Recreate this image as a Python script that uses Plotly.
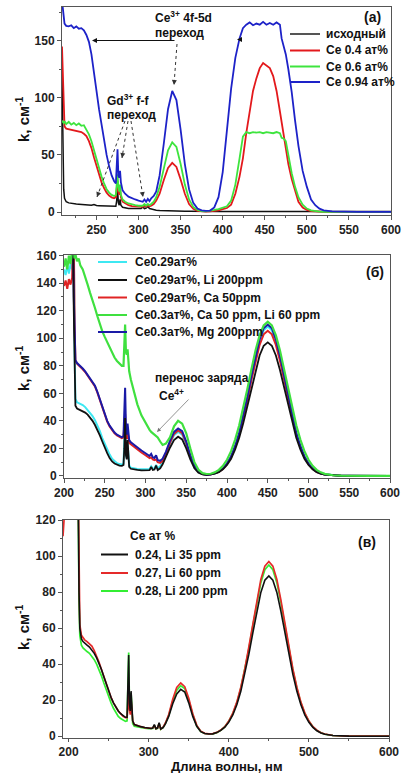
import plotly.graph_objects as go

# ---------------- Panel (a) data ----------------
wl_a = [209, 210, 211, 212, 214, 217, 220, 223, 226, 229,
        232, 235, 238, 241, 244, 247, 250, 253, 256, 259,
        262, 265, 268, 271, 273, 274, 275, 276, 277, 278,
        279, 281, 284, 288, 292, 296, 300, 303, 305, 307,
        309, 311, 313, 315, 318, 321, 325, 330, 335, 340,
        345, 350, 355, 360, 365, 370, 375, 380, 385, 390,
        395, 400, 405, 410, 415, 420, 424, 428, 432, 436,
        440, 444, 448, 452, 456, 460, 464, 468, 470, 472,
        475, 478, 482, 486, 490, 495, 500, 505, 510, 515,
        520, 530, 540, 560, 600]
k_a_initial = [120, 50, 20, 12, 9, 8, 7.5, 7.2, 7, 6.8,
               6.6, 6.4, 6.2, 6, 5.9, 6.6, 5.7, 5.6, 5.5, 5.3,
               5.1, 5, 4.8, 4.6, 5, 10, 20, 8, 6, 11,
               6, 4.2, 3.6, 3.2, 3, 2.8, 2.7, 3, 4.5, 3,
               3.5, 4.8, 3, 2.5, 2, 1.6, 1.3, 1.1, 1, 0.9,
               0.8, 0.7, 0.6, 0.6, 0.5, 0.5, 0.5, 0.5, 0.5, 0.5,
               0.5, 0.5, 0.5, 0.5, 0.5, 0.5, 0.5, 0.5, 0.5, 0.5,
               0.5, 0.5, 0.5, 0.5, 0.5, 0.5, 0.5, 0.5, 0.5, 0.5,
               0.5, 0.5, 0.5, 0.5, 0.5, 0.5, 0.5, 0.5, 0.5, 0.5,
               0.4, 0.4, 0.4, 0.4, 0.4]
k_a_ce04 = [145, 118, 88, 75, 73, 72.5, 72, 71.5, 71, 70.5,
            70, 68.5, 66.5, 62, 56, 48, 40, 32, 26, 21,
            17, 14.5, 12.8, 12, 13, 20, 27, 18, 15, 20,
            13, 9, 7.5, 6, 5.2, 4.8, 4.4, 4.3, 4.5, 5.5,
            4.5, 6, 5, 5.5, 7, 10, 16, 28, 38.5, 43,
            39.5, 28.5, 16, 7, 2.8, 1.1, 0.5, 0.4, 0.6, 0.8,
            1.5, 2.5, 3.5, 6.5, 16, 31, 47, 69, 88, 106,
            117, 126, 130.5, 128.5, 126, 119, 106, 88, 78, 69,
            54, 42, 29, 18, 9, 4, 1.8, 0.8, 0.4, 0.2,
            0.1, 0.1, 0.1, 0.1, 0.1]
k_a_ce06 = [80, 79, 78, 79.5, 77, 79, 76.5, 78, 76, 77.5,
            75.5, 76, 72.5, 68, 62, 54, 46, 38, 31, 25,
            20, 17, 15, 14, 15, 24, 33, 22, 18, 24,
            15, 11, 9, 7.5, 6.5, 6, 5.5, 5.5, 5.5, 7,
            5.5, 7, 6, 7, 9, 13, 22, 38, 54, 61,
            57, 42, 24, 11, 4.5, 1.8, 0.8, 0.6, 1, 1.8,
            2.5, 3.5, 5, 10, 24, 47, 66, 70, 69, 70,
            69.5, 70, 69, 70, 69.5, 69, 70, 69, 65, 64.5,
            62, 50, 34, 22, 13, 6.5, 3, 1.5, 0.7, 0.3,
            0.2, 0.1, 0.1, 0.1, 0.1]
k_a_ce094 = [185, 178, 170, 165, 163, 162.5, 163.5, 161, 162.5, 160.5,
             161, 159, 155, 149, 138, 124, 106, 90, 76, 62,
             50, 40, 32, 27, 25, 40, 55, 32, 30, 36,
             26, 19, 16, 13.5, 12, 11, 10, 9.5, 9, 11,
             9, 11.5, 9.5, 12, 14, 18, 32, 60, 90, 106,
             98, 72, 42, 20, 8, 3, 1.5, 1, 1.3, 4,
             13, 35, 72, 108, 135, 152, 161, 164, 166, 163.5,
             165, 164, 166.5, 164, 165.5, 164, 166, 164, 152, 147,
             138, 125, 105, 80, 58, 36, 22, 11, 6, 3,
             1.5, 0.5, 0.2, 0.1, 0.1]

# ---------------- Panel (b) data ----------------
wl_b = [200, 202, 204, 206, 208, 210, 211, 212, 213, 214,
        216, 218, 220, 223, 226, 229, 232, 235, 238, 241,
        244, 247, 250, 253, 256, 259, 262, 265, 268, 271,
        273, 274, 275, 276, 277, 278, 279, 280, 282, 285,
        290, 295, 300, 303, 305, 307, 309, 311, 313, 315,
        318, 321, 325, 330, 335, 340, 345, 350, 355, 360,
        365, 370, 375, 380, 385, 390, 395, 400, 405, 410,
        415, 420, 425, 430, 435, 440, 445, 450, 455, 460,
        465, 470, 475, 480, 485, 490, 495, 500, 505, 510,
        515, 520, 530, 540, 550, 575, 600]
k_b_ce029 = [150, 146, 153, 147, 154, 150, 170, 175, 90, 56,
             53.5, 53, 52.5, 51.5, 50, 48, 46, 43.5, 40.5, 37,
             32.5, 27.5, 23, 19, 15.5, 12.5, 10.5, 9.3, 8.6, 8.3,
             9, 20, 40, 16, 13, 24, 10, 7.5, 6, 5.5,
             5, 4.8, 4.7, 4.7, 5, 7, 5.2, 5.5, 8, 5.5,
             7, 10, 16, 23.5, 29.5, 32, 30, 23, 14, 6.5,
             2.8, 1.3, 0.9, 1.1, 1.8, 3.1, 5.3, 8.8, 14, 21.5,
             31, 43, 57, 72, 86, 97.9, 105.8, 108.5, 105.8, 97.9,
             86, 72, 57, 43, 31, 21.5, 14, 9, 5.6, 3.4,
             2, 1.2, 0.4, 0.15, 0.05, 0, 0]
k_b_li200 = [175, 175, 175, 175, 175, 175, 175, 120, 68, 51,
             49, 48.5, 48, 47, 46, 44.5, 42.5, 40, 37, 33.5,
             29.5, 25, 20.5, 16.5, 13, 10.5, 9, 8, 7.5, 7.3,
             8, 20, 42, 15, 12, 26, 9, 6.5, 5.2, 4.8,
             4.4, 4.1, 3.9, 3.9, 4.2, 6.5, 4.3, 4.6, 7.5, 4.3,
             5.5, 8.5, 14, 20.5, 26, 28.5, 26.5, 20, 12, 5.5,
             2.3, 1.1, 0.8, 1, 1.6, 2.8, 4.8, 7.9, 12.5, 19.2,
             27.7, 38.5, 50.8, 64.2, 76.9, 87.5, 94.6, 97, 94.6, 87.5,
             76.9, 64.2, 50.8, 38.5, 27.7, 19.2, 12.5, 7.9, 4.8, 2.8,
             1.6, 1, 0.4, 0.15, 0.05, 0, 0]
k_b_ca50 = [138, 142, 136, 143, 139, 144, 170, 175, 110, 84,
            81.5, 80.5, 79.5, 77.5, 75.5, 73, 70.5, 68, 65, 60.5,
            55, 49, 44, 39.5, 36, 33, 31, 29.5, 28.5, 27.5,
            28, 35, 45, 30, 27, 32, 25, 24, 23, 21.5,
            19, 17, 15, 14, 13, 13.5, 12, 11.5, 12, 10,
            9.5, 11, 16, 24, 30.5, 33, 31, 24, 14.5, 7,
            3, 1.4, 0.9, 1.1, 1.8, 3, 5.1, 8.6, 13.6, 20.9,
            30.1, 41.8, 55.3, 69.8, 83.7, 95.2, 102.9, 105.5, 102.9, 95.2,
            83.7, 69.8, 55.3, 41.8, 30.1, 20.9, 13.6, 8.6, 5.2, 3,
            1.7, 1, 0.4, 0.15, 0.05, 0, 0]
k_b_ca50li60 = [152, 158, 150, 160, 154, 162, 170, 165, 158, 161,
                156, 158, 153, 150, 145, 139, 133, 128, 122, 116,
                110, 105, 101, 97, 93, 89, 86, 83.5, 82, 80,
                80, 95, 110, 90, 88, 92, 84, 76, 70, 63,
                52, 44, 38.5, 35.5, 33.5, 32, 31, 30, 29.5, 28,
                25, 22.5, 23.5, 28, 36, 40, 38, 31, 20, 10,
                4.5, 2, 1.4, 1.6, 2.6, 4.4, 7.3, 11.7, 18, 26.4,
                36.8, 49.3, 63.2, 77.6, 91.2, 102.1, 109.4, 112, 109.4, 102.1,
                91.2, 77.6, 63.2, 49.3, 36.8, 26.4, 18, 11.7, 7.3, 4.4,
                2.6, 1.5, 0.5, 0.2, 0.05, 0, 0]
k_b_mg200 = [175, 175, 175, 175, 175, 175, 175, 130, 100, 84,
             82, 81, 80, 78, 76, 73.5, 71, 68.5, 65.5, 61,
             55.5, 49.5, 44.5, 40, 36.5, 33.5, 31.5, 30, 29, 28,
             29, 45, 64, 35, 30, 38, 28, 26, 24.5, 23,
             20.5, 18.5, 16.5, 15.5, 14.5, 16, 13.5, 13, 15, 11.5,
             11, 12.5, 17.5, 25.5, 32, 34.5, 32.5, 25, 15, 7.3,
             3.1, 1.4, 0.9, 1.1, 1.9, 3.2, 5.3, 9, 14.2, 21.8,
             31.4, 43.6, 57.6, 72.8, 87.2, 99.2, 107.3, 110, 107.3, 99.2,
             87.2, 72.8, 57.6, 43.6, 31.4, 21.8, 14.2, 9, 5.4, 3.2,
             1.8, 1, 0.4, 0.15, 0.05, 0, 0]

# ---------------- Panel (c) data ----------------
wl_c = [193, 195, 198, 202, 206, 210, 211, 212, 213, 214,
        216, 218, 220, 223, 226, 229, 232, 235, 238, 241,
        244, 247, 250, 253, 256, 259, 262, 265, 268, 271,
        273, 274, 275, 276, 277, 278, 279, 280, 282, 285,
        290, 295, 300, 303, 305, 307, 309, 311, 313, 315,
        318, 321, 325, 330, 335, 340, 345, 350, 355, 360,
        365, 370, 375, 380, 385, 390, 395, 400, 405, 410,
        415, 420, 425, 430, 435, 440, 445, 450, 455, 460,
        465, 470, 475, 480, 485, 490, 495, 500, 505, 510,
        515, 520, 530, 540, 550, 575, 600]
k_c_024 = [200, 200, 200, 200, 200, 200, 180, 120, 80, 60,
           54, 52.5, 51.5, 50.5, 49.5, 48, 46, 43.5, 40.5, 37,
           33, 29, 25, 21.5, 18.5, 16, 14, 12.5, 11.3, 10.5,
           10.5, 25, 45, 18, 14, 25, 12, 8.5, 6.5, 6,
           5.3, 4.8, 4.4, 4.3, 4.5, 6.5, 4.2, 4.5, 7.5, 4,
           4.8, 7, 11, 18, 23.5, 26, 24.5, 18.5, 11, 5.5,
           2.5, 1.5, 1.2, 1.3, 2, 3.2, 5, 7.8, 11.8, 17.4,
           24.9, 34.3, 45.4, 57.4, 69.4, 79.8, 86.6, 89, 86.6, 79.8,
           69.4, 57.4, 45.4, 34.3, 24.9, 17.4, 11.7, 7.7, 4.9, 3,
           1.8, 1.1, 0.4, 0.15, 0.05, 0, 0]
k_c_027 = [111, 125, 200, 200, 200, 200, 180, 125, 85, 62,
           56, 54.5, 53.5, 52.5, 51.5, 50, 47.5, 44.5, 41, 37,
           33, 29, 25, 21.5, 18.5, 16, 14, 12.5, 11, 10.3,
           10.3, 16, 28, 15, 12, 20, 11, 8.5, 6.5, 6,
           5.3, 4.8, 4.4, 4.3, 4.5, 6, 4.2, 4.5, 7, 4,
           5, 7.5, 12, 20.5, 27, 29.5, 27.5, 21, 12.5, 6,
           2.8, 1.6, 1.3, 1.4, 2.1, 3.4, 5.3, 8.4, 12.8, 18.9,
           27.2, 37.3, 49.5, 62.6, 75.7, 87, 94.4, 97, 94.4, 87,
           75.7, 62.6, 49.5, 37.3, 27.2, 18.9, 12.8, 8.4, 5.3, 3.3,
           1.9, 1.2, 0.4, 0.15, 0.05, 0, 0]
k_c_028 = [200, 200, 200, 200, 200, 200, 180, 115, 75, 56,
           50.5, 49, 48, 47, 46, 44.5, 42.5, 40, 37, 33.5,
           29.5, 25.5, 22, 18.5, 15.5, 13, 11, 9.8, 8.8, 8.2,
           8.5, 25, 46.5, 17, 13, 24, 10, 7, 5.5, 5.2,
           4.8, 4.5, 4.2, 4.1, 4.3, 6, 4, 4.3, 7, 3.8,
           4.8, 7.2, 11.5, 19.5, 25.5, 28, 26.5, 20, 12, 5.6,
           2.6, 1.5, 1.2, 1.3, 2, 3.3, 5.2, 8.3, 12.5, 18.5,
           26.6, 36.6, 48.5, 61.3, 74.1, 85.2, 92.4, 95, 92.4, 85.2,
           74.1, 61.3, 48.5, 36.6, 26.6, 18.5, 12.5, 8.3, 5.2, 3.2,
           1.9, 1.1, 0.4, 0.15, 0.05, 0, 0]

for name, xs, ys in [("a0", wl_a, k_a_initial), ("a1", wl_a, k_a_ce04), ("a2", wl_a, k_a_ce06),
                     ("a3", wl_a, k_a_ce094), ("b0", wl_b, k_b_ce029), ("b1", wl_b, k_b_li200),
                     ("b2", wl_b, k_b_ca50), ("b3", wl_b, k_b_ca50li60), ("b4", wl_b, k_b_mg200),
                     ("c0", wl_c, k_c_024), ("c1", wl_c, k_c_027), ("c2", wl_c, k_c_028)]:
    if len(xs) != len(ys):
        raise ValueError(f"{name}: {len(xs)} vs {len(ys)}")

W, H = 402, 773
def px(x):
    return x / W
def py(y):
    return 1 - y / H

FONT = "Liberation Sans"
BLK = "#111111"

fig = go.Figure()

def add(xs, ys, color, ax, width=1.7):
    fig.add_trace(go.Scatter(x=xs, y=ys, mode="lines", line=dict(color=color, width=width),
                             xaxis="x" + ax, yaxis="y" + ax, showlegend=False, hoverinfo="skip"))

# panel (a)
add(wl_a, k_a_initial, BLK, "", 1.5)
add(wl_a, k_a_ce04, "#e3191c", "", 1.8)
add(wl_a, k_a_ce06, "#3ee43e", "", 1.8)
add(wl_a, k_a_ce094, "#1d22c8", "", 1.8)
# panel (b)
add(wl_b, k_b_ce029, "#3ee8f2", "2", 2)
add(wl_b, k_b_ca50, "#e02424", "2", 2)
add(wl_b, k_b_mg200, "#1a1aa6", "2", 2)
add(wl_b, k_b_li200, BLK, "2", 1.8)
add(wl_b, k_b_ca50li60, "#3fe03f", "2", 2.2)
# panel (c)
add(wl_c, k_c_028, "#33ee33", "3", 1.7)
add(wl_c, k_c_027, "#e52a2a", "3", 1.7)
add(wl_c, k_c_024, BLK, "3", 1.6)

def xax(domain, rng, tick0, dtick, mdtick, ticklen=4):
    return dict(domain=domain, range=rng, tickmode="linear", tick0=tick0, dtick=dtick,
                showline=True, linecolor="#555", linewidth=1, mirror=True,
                ticks="outside", ticklen=ticklen, tickwidth=1, tickcolor="#555",
                minor=dict(ticks="outside", ticklen=2, tickcolor="#555", dtick=mdtick, tick0=tick0),
                showgrid=False, zeroline=False, automargin=False,
                tickfont=dict(family=FONT, size=12, color="#222", weight="bold"))

yax = xax

layout = dict(
    width=W, height=H, margin=dict(l=0, r=0, t=0, b=0),
    paper_bgcolor="white", plot_bgcolor="white", showlegend=False,
    xaxis=dict(xax([px(62), px(391)], [209, 600], 250, 50, 25), anchor="y"),
    yaxis=dict(yax([py(215), py(7)], [-2.6, 179.5], 0, 50, 25), anchor="x"),
    xaxis2=dict(xax([px(64), px(390)], [200, 600], 200, 50, 25), anchor="y2"),
    yaxis2=dict(yax([py(478), py(255)], [-1.5, 160.5], 0, 20, 10), anchor="x2"),
    xaxis3=dict(xax([px(63), px(389)], [193, 600], 200, 100, 50, 3), anchor="y3"),
    yaxis3=dict(yax([py(738), py(520)], [-1, 120], 0, 20, 10), anchor="x3"),
)
fig.update_layout(**layout)

ann = []
shapes = []

def text(x, y, s, size=12, anchor="left"):
    ann.append(dict(x=px(x), y=py(y), xref="paper", yref="paper", text=s, showarrow=False,
                    xanchor=anchor, yanchor="middle",
                    font=dict(family=FONT, size=size, color="#111", weight="bold")))

def legend_item(x0, x1, y, color, label, width=2, tx=None):
    shapes.append(dict(type="line", xref="paper", yref="paper", x0=px(x0), x1=px(x1),
                       y0=py(y), y1=py(y), line=dict(color=color, width=width)))
    text(tx if tx is not None else x1 + 4, y, label, 12)

def dotted_arrow(x0, y0, x1, y1, color="#333"):
    shapes.append(dict(type="line", xref="paper", yref="paper", x0=px(x0), y0=py(y0),
                       x1=px(x1), y1=py(y1), line=dict(color=color, width=1, dash="dot")))
    dx, dy = x0 - x1, y0 - y1
    L = (dx * dx + dy * dy) ** 0.5
    ann.append(dict(x=px(x1), y=py(y1), xref="paper", yref="paper", text="", showarrow=True,
                    ax=dx / L * 6, ay=dy / L * 6, arrowhead=2, arrowsize=1, arrowwidth=1,
                    arrowcolor=color))

def solid_arrow(x0, y0, x1, y1, color="#111", width=1):
    ann.append(dict(x=px(x1), y=py(y1), xref="paper", yref="paper", text="", showarrow=True,
                    ax=x0 - x1, ay=y0 - y1, arrowhead=2, arrowsize=1, arrowwidth=width,
                    arrowcolor=color))

# ---- panel (a) text ----
text(372, 17, "(a)", 14, "center")
legend_item(290, 320, 34, "#555", "исходный")
legend_item(290, 320, 50.5, "#e3191c", "Ce 0.4 ат%")
legend_item(290, 320, 66.5, "#3ee43e", "Ce 0.6 ат%")
legend_item(290, 320, 82, "#1d22c8", "Ce 0.94 ат%")
text(153, 17, "Ce<sup>3+</sup> 4f-5d", 12)
text(153, 33, "переход", 12)
dotted_arrow(177, 44, 174, 85)
text(105, 100, "Gd<sup>3+</sup> f-f", 12)
text(105, 115, "переход", 12)
dotted_arrow(125, 121, 97, 197)
dotted_arrow(128, 121, 122, 158)
dotted_arrow(131, 121, 143, 197)
solid_arrow(176, 40.5, 92, 40.5)
solid_arrow(241, 39.5, 237, 39.5)
text(22, 119, "k, см<sup>-1</sup>", 15, "center")
ann[-1]["textangle"] = -90

# ---- panel (b) text ----
text(375, 272, "(б)", 14, "center")
legend_item(98, 127, 262, "#3ee8f2", "Ce0.29ат%", 2, 133)
legend_item(98, 127, 280, BLK, "Ce0.29ат%, Li 200ppm", 2, 133)
legend_item(98, 127, 297.5, "#e02424", "Ce0.29ат%, Ca 50ppm", 2, 133)
legend_item(98, 127, 315, "#3fe03f", "Ce0.3ат%, Ca 50 ppm, Li 60 ppm", 2, 133)
legend_item(98, 127, 332, "#1a1aa6", "Ce0.3ат%, Mg 200ppm", 2, 133)
text(153, 378, "перенос заряда", 12)
text(157, 395, "Ce<sup>4+</sup>", 12)
solid_arrow(190, 398, 157, 432, "#777", 0.8)
text(22, 368, "k, см<sup>-1</sup>", 15, "center")
ann[-1]["textangle"] = -90

# ---- panel (c) text ----
text(367, 542, "(в)", 14, "center")
text(128, 536, "Се ат %", 12)
legend_item(101, 128, 554.5, BLK, "0.24, Li 35 ppm", 2, 133)
legend_item(101, 128, 573, "#e52a2a", "0.27, Li 60 ppm", 2, 133)
legend_item(101, 128, 591, "#33ee33", "0.28, Li 200 ppm", 2, 133)
text(22, 627, "k, см<sup>-1</sup>", 15, "center")
ann[-1]["textangle"] = -90
text(227, 766, "Длина волны, нм", 13, "center")

fig.update_layout(annotations=ann, shapes=shapes)
fig.write_html("out.html")
